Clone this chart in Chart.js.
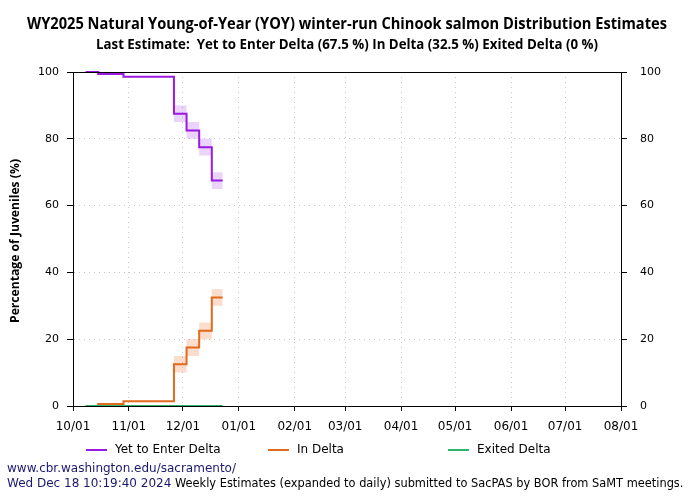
<!DOCTYPE html>
<html>
<head>
<meta charset="utf-8">
<title>WY2025 winter-run Chinook distribution</title>
<script src="https://cdn.jsdelivr.net/npm/chart.js@4.4.0/dist/chart.umd.min.js"></script>
<style>
    html, body { margin: 0; padding: 0; background: #fff; }
    #wrap { width: 700px; height: 500px; position: relative; }
</style>
</head>
<body>
<div id="wrap"><canvas id="chart"></canvas></div>
<script>
// ---- data ----
const seriesNames = ['Yet to Enter Delta', 'In Delta', 'Exited Delta'];

// weekly estimates (last entry = end of the daily expansion)
const estimateDates = ['2024-10-08', '2024-10-15', '2024-10-29', '2024-11-26', '2024-12-03', '2024-12-10', '2024-12-17', '2024-12-23'];
const yetToEnter    = [100, 99.4, 98.6, 87.5, 82.5, 77.5, 67.5, 67.5];
const inDelta       = [0, 0.6, 1.4, 12.5, 17.5, 22.5, 32.5, 32.5];
const exitedDelta   = [0, 0, 0, 0, 0, 0, 0, 0];

// uncertainty ranges
const yetToEnterLow  = [null, null, null, 85, 80, 75, 65, 65];
const yetToEnterHigh = [null, null, null, 90, 85, 80, 70, 70];
const inDeltaLow     = [null, null, null, 10, 15, 20, 30, 30];
const inDeltaHigh    = [null, null, null, 15, 20, 25, 35, 35];

// x axis ticks
const tickDates  = ['2024-10-01', '2024-11-01', '2024-12-01', '2025-01-01', '2025-02-01', '2025-03-01', '2025-04-01', '2025-05-01', '2025-06-01', '2025-07-01', '2025-08-01'];
const tickLabels = ['10/01', '11/01', '12/01', '01/01', '02/01', '03/01', '04/01', '05/01', '06/01', '07/01', '08/01'];

const titleText = 'WY2025 Natural Young-of-Year (YOY) winter-run Chinook salmon Distribution Estimates';
const footerUrl = 'www.cbr.washington.edu/sacramento/';
const footerDate = 'Wed Dec 18 10:19:40 2024';
const footerNote = ' Weekly Estimates (expanded to daily) submitted to SacPAS by BOR from SaMT meetings.';

// ---- helpers ----
const colors = {
    purple: '#9b19e0',
    orange: '#e26a1c',
    green: '#2db36c',
    purpleBand: 'rgba(165, 60, 230, 0.22)',
    orangeBand: 'rgba(235, 120, 50, 0.25)'
};

const dayOf = d => (Date.parse(d) - Date.parse(tickDates[0])) / 864e5;
const pts = vals => estimateDates.map((d, i) => ({ x: dayOf(d), y: vals[i] }));
const last = arr => arr[arr.length - 1];

const subtitleText = `Last Estimate:  ${seriesNames[0]} (${last(yetToEnter)} %) ${seriesNames[1]} (${last(inDelta)} %) ${seriesNames[2]} (${last(exitedDelta)} %)`;

// draw text squeezed/stretched to a given width (condensed title look)
function drawFit(ctx, text, cx, cy, width, font) {
    ctx.font = font;
    const w = ctx.measureText(text).width;
    ctx.save();
    ctx.translate(cx, cy);
    ctx.scale(width / w, 1);
    ctx.textAlign = 'center';
    ctx.textBaseline = 'middle';
    ctx.fillText(text, 0, 0);
    ctx.restore();
}

const lineSet = (label, vals, color, order) => ({
    label: label,
    data: pts(vals),
    borderColor: color,
    backgroundColor: color,
    borderWidth: 2,
    stepped: true,
    pointRadius: 0,
    fill: false,
    clip: false,
    order: order
});

const bandSet = (vals, fillTarget, color) => ({
    label: '_band',
    data: pts(vals),
    borderColor: 'transparent',
    backgroundColor: color,
    borderWidth: 0,
    stepped: true,
    pointRadius: 0,
    fill: fillTarget === null ? false : { target: fillTarget },
    order: 5
});

// ---- decorations: titles, legend, footer, top border ----
const decorations = {
    id: 'decorations',
    afterDatasetsDraw(chart) {
        const { ctx, chartArea: a } = chart;
        ctx.save();
        ctx.strokeStyle = '#000';
        ctx.lineWidth = 1;
        ctx.beginPath();
        ctx.moveTo(a.left, Math.floor(a.top) + 0.5);
        ctx.lineTo(a.right, Math.floor(a.top) + 0.5);
        ctx.stroke();
        ctx.restore();
    },
    afterDraw(chart) {
        const { ctx } = chart;
        ctx.save();
        ctx.fillStyle = '#000';

        // titles
        drawFit(ctx, titleText, 347, 24, 640, 'bold 16px "Open Sans"');
        drawFit(ctx, subtitleText, 347, 45, 502, 'bold 14px "Open Sans"');

        // y axis title
        ctx.save();
        ctx.translate(16, 241);
        ctx.rotate(-Math.PI / 2);
        drawFit(ctx, 'Percentage of Juveniles (%)', 0, 0, 164, 'bold 12px "Open Sans"');
        ctx.restore();

        // legend
        const legendX = [86, 268, 448];
        const lineColors = [colors.purple, colors.orange, colors.green];
        ctx.font = '12px "DejaVu Sans"';
        ctx.textBaseline = 'middle';
        ctx.textAlign = 'left';
        seriesNames.forEach((name, i) => {
            ctx.strokeStyle = lineColors[i];
            ctx.lineWidth = 2;
            ctx.beginPath();
            ctx.moveTo(legendX[i], 450);
            ctx.lineTo(legendX[i] + 21, 450);
            ctx.stroke();
            ctx.fillStyle = '#000';
            ctx.fillText(name, legendX[i] + 29, 450);
        });

        // footer
        ctx.fillStyle = '#191970';
        ctx.fillText(footerUrl, 7, 469);
        ctx.fillText(footerDate, 7, 484);
        const dw = ctx.measureText(footerDate).width;
        ctx.font = '11.4px "DejaVu Sans"';
        ctx.fillStyle = '#000';
        ctx.fillText(footerNote, 7 + dw, 484);
        ctx.restore();
    }
};

Chart.defaults.color = '#000';
Chart.defaults.font.family = '"DejaVu Sans", sans-serif';

const gridDash = [1, 4];

const ctx = document.getElementById('chart');
new Chart(ctx, {
    type: 'line',
    data: {
        datasets: [
            lineSet(seriesNames[0], yetToEnter, colors.purple, 2),
            lineSet(seriesNames[1], inDelta, colors.orange, 1),
            lineSet(seriesNames[2], exitedDelta, colors.green, 0),
            bandSet(yetToEnterHigh, null, colors.purpleBand),
            bandSet(yetToEnterLow, 3, colors.purpleBand),
            bandSet(inDeltaHigh, null, colors.orangeBand),
            bandSet(inDeltaLow, 5, colors.orangeBand)
        ]
    },
    options: {
        responsive: true,
        maintainAspectRatio: false,
        devicePixelRatio: 1,
        animation: false,
        layout: {
            padding: { top: 72, bottom: 60, left: 0, right: 0 }
        },
        plugins: {
            legend: { display: false },
            title: { display: false },
            tooltip: { enabled: false }
        },
        scales: {
            x: {
                type: 'linear',
                min: dayOf(tickDates[0]),
                max: dayOf(last(tickDates)),
                afterBuildTicks: scale => {
                    scale.ticks = tickDates.map(d => ({ value: dayOf(d) }));
                },
                afterFit: scale => { scale.height = 34; },
                ticks: {
                    autoSkip: false,
                    maxRotation: 0,
                    padding: 9,
                    font: { size: 12 },
                    callback: (value, index) => tickLabels[index]
                },
                grid: {
                    color: '#c8c8c8',
                    tickColor: '#000',
                    tickLength: 5
                },
                border: { color: '#000', width: 1, dash: gridDash, z: 1 }
            },
            y: {
                position: 'left',
                min: 0,
                max: 100,
                afterFit: scale => { scale.width = 73; },
                ticks: {
                    stepSize: 20,
                    padding: 8,
                    font: { size: 11 }
                },
                grid: {
                    color: '#c8c8c8',
                    tickColor: '#000',
                    tickLength: 6
                },
                border: { color: '#000', width: 1, dash: gridDash }
            },
            y2: {
                position: 'right',
                min: 0,
                max: 100,
                afterFit: scale => { scale.width = 79; },
                ticks: {
                    stepSize: 20,
                    padding: 13,
                    font: { size: 11 }
                },
                grid: {
                    drawOnChartArea: false,
                    tickColor: '#000',
                    tickLength: 6
                },
                border: { color: '#000', width: 1 }
            }
        }
    },
    plugins: [decorations]
});
</script>
</body>
</html>
